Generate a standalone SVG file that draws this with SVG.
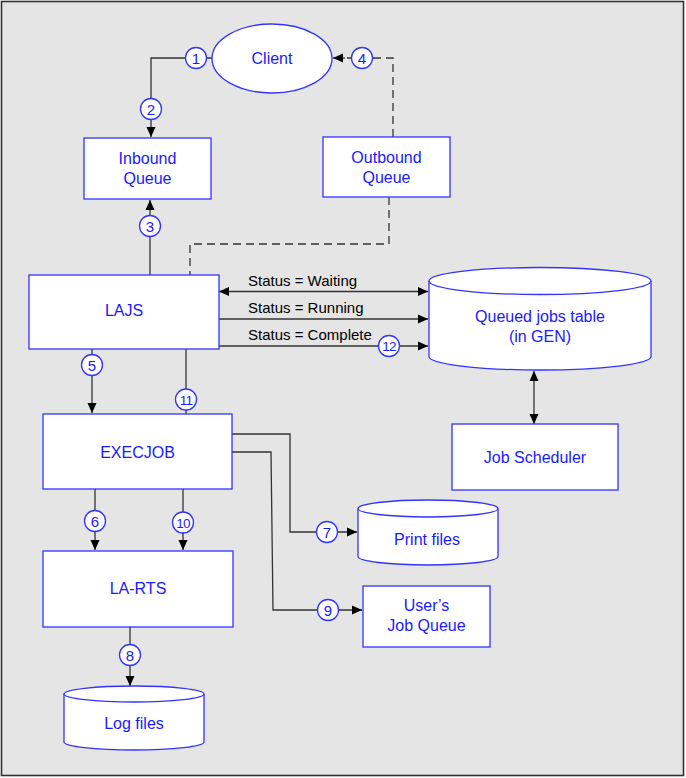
<svg xmlns="http://www.w3.org/2000/svg" width="686" height="778" viewBox="0 0 686 778">
<defs>
<marker id="arr" markerUnits="userSpaceOnUse" markerWidth="10" markerHeight="10" refX="10" refY="5" orient="auto-start-reverse">
<path d="M0,0.5 L10,5 L0,9.5 z" fill="#000"/>
</marker>
<style>
.box{fill:#fff;stroke:#3333ff;stroke-width:1.3}
.lbl{font-family:"Liberation Sans",Arial,sans-serif;font-size:16px;fill:#1a1aff;text-anchor:middle}
.st{font-family:"Liberation Sans",Arial,sans-serif;font-size:15px;fill:#000}
.ln{fill:none;stroke:#333;stroke-width:1.3}
.dash{stroke-dasharray:8,5}
.num circle{fill:#fff;stroke:#3333ff;stroke-width:1.3}
.num text{font-family:"Liberation Sans",Arial,sans-serif;font-size:15px;fill:#1a1aff;text-anchor:middle}
.num text.d{font-size:13.5px;letter-spacing:-0.8px}
</style>
</defs>
<rect x="1.5" y="1.5" width="682" height="774" fill="#e5e5e5" stroke="#333" stroke-width="1.6"/>

<g id="connectors">
<path class="ln" d="M212,58 H151 V137" marker-end="url(#arr)"/>
<path class="ln dash" d="M393,137 V58 H340"/>
<path class="ln" d="M345,58 H333" marker-end="url(#arr)"/>
<path class="ln" d="M150,275 V200" marker-end="url(#arr)"/>
<path class="ln dash" d="M389,197 V244 H190 V275"/>
<path class="ln" d="M219,291.5 H428" marker-start="url(#arr)" marker-end="url(#arr)"/>
<path class="ln" d="M219,319 H428" marker-end="url(#arr)"/>
<path class="ln" d="M219,346 H428" marker-end="url(#arr)"/>
<path class="ln" d="M92,349 V413" marker-end="url(#arr)"/>
<path class="ln" d="M186,349 V414"/>
<path class="ln" d="M232,434 H290 V532 H357" marker-end="url(#arr)"/>
<path class="ln" d="M232,452 H271 L273,610 H362" marker-end="url(#arr)"/>
<path class="ln" d="M95,489 V550" marker-end="url(#arr)"/>
<path class="ln" d="M183,489 V550" marker-end="url(#arr)"/>
<path class="ln" d="M130,627 V686" marker-end="url(#arr)"/>
<path class="ln" d="M534,371 V424" marker-start="url(#arr)" marker-end="url(#arr)"/>
</g>

<g id="client">
<ellipse class="box" cx="272" cy="58.5" rx="60" ry="34.5"/>
<text class="lbl" x="272" y="64">Client</text>
</g>
<g id="inbound-queue">
<rect class="box" x="84" y="138" width="127" height="61"/>
<text class="lbl" x="147.5" y="164">Inbound</text>
<text class="lbl" x="147.5" y="184">Queue</text>
</g>
<g id="outbound-queue">
<rect class="box" x="323" y="137" width="127" height="60"/>
<text class="lbl" x="386.5" y="162.5">Outbound</text>
<text class="lbl" x="386.5" y="182.5">Queue</text>
</g>
<g id="lajs">
<rect class="box" x="29" y="275" width="190" height="74"/>
<text class="lbl" x="124" y="316">LAJS</text>
</g>
<g id="queued-jobs-table">
<path class="box" d="M429,281 L429,356.5 A111,13.5 0 0 0 651,356.5 L651,281 A111,13.5 0 0 0 429,281 Z"/>
<path class="box" style="fill:none" d="M429,281 A111,13.5 0 0 0 651,281"/>
<text class="lbl" x="540" y="322">Queued jobs table</text>
<text class="lbl" x="540" y="342">(in GEN)</text>
</g>
<g id="job-scheduler">
<rect class="box" x="452" y="424" width="166" height="66"/>
<text class="lbl" x="535" y="463">Job Scheduler</text>
</g>
<g id="execjob">
<rect class="box" x="43" y="414" width="189" height="75"/>
<text class="lbl" x="137.5" y="457.5">EXECJOB</text>
</g>
<g id="la-rts">
<rect class="box" x="43" y="551" width="190" height="76"/>
<text class="lbl" x="138" y="594">LA-RTS</text>
</g>
<g id="print-files">
<path class="box" d="M358,508.5 L358,556.5 A70,8.5 0 0 0 498,556.5 L498,508.5 A70,8.5 0 0 0 358,508.5 Z"/>
<path class="box" style="fill:none" d="M358,508.5 A70,8.5 0 0 0 498,508.5"/>
<text class="lbl" x="427" y="545">Print files</text>
</g>
<g id="users-job-queue">
<rect class="box" x="363" y="586" width="127" height="61"/>
<text class="lbl" x="426.5" y="611">User’s</text>
<text class="lbl" x="426.5" y="631">Job Queue</text>
</g>
<g id="log-files">
<path class="box" d="M64,694 L64,742 A70,8 0 0 0 204,742 L204,694 A70,8 0 0 0 64,694 Z"/>
<path class="box" style="fill:none" d="M64,694 A70,8 0 0 0 204,694"/>
<text class="lbl" x="134" y="729">Log files</text>
</g>

<g id="step-numbers" class="num">
<circle cx="196" cy="58" r="10.5"/><text x="196" y="63.5">1</text>
<circle cx="151" cy="109" r="10.5"/><text x="151" y="114.5">2</text>
<circle cx="150" cy="226" r="10.5"/><text x="150" y="231.5">3</text>
<circle cx="362" cy="58" r="10.5"/><text x="362" y="63.5">4</text>
<circle cx="92" cy="365" r="10.5"/><text x="92" y="370.5">5</text>
<circle cx="95" cy="521" r="10.5"/><text x="95" y="526.5">6</text>
<circle cx="327" cy="532" r="10.5"/><text x="327" y="537.5">7</text>
<circle cx="130" cy="655" r="10.5"/><text x="130" y="660.5">8</text>
<circle cx="328" cy="610" r="10.5"/><text x="328" y="615.5">9</text>
<circle cx="183" cy="522.5" r="10.5"/><text class="d" x="183" y="527.5">10</text>
<circle cx="186" cy="399.5" r="10.5"/><text class="d" x="186" y="404.5">11</text>
<circle cx="389" cy="346" r="10.5"/><text class="d" x="389" y="351">12</text>
</g>

<g id="status-labels">
<text class="st" x="248" y="286">Status = Waiting</text>
<text class="st" x="248" y="313">Status = Running</text>
<text class="st" x="248" y="340">Status = Complete</text>
</g>
</svg>
